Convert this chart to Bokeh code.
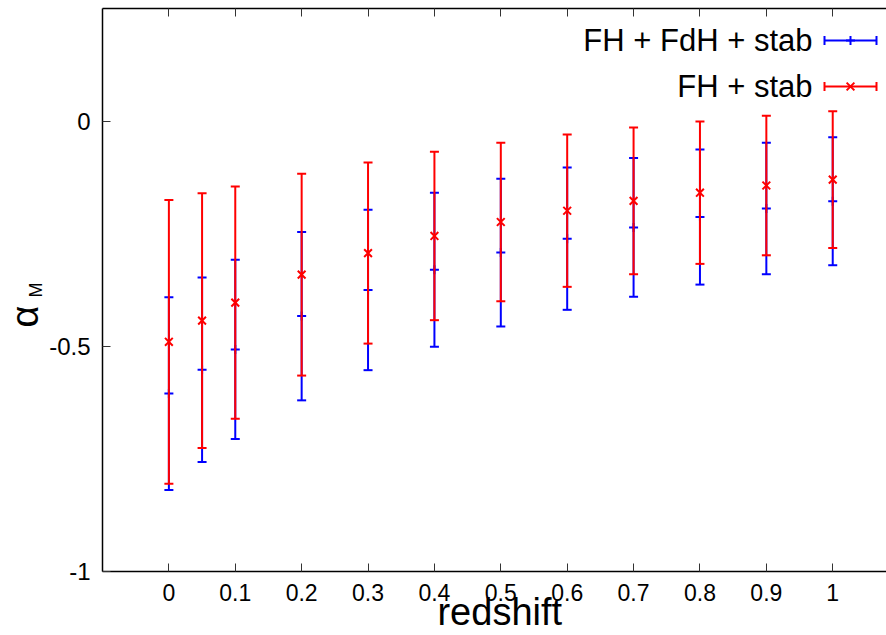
import numpy as np
from bokeh.plotting import figure
from bokeh.models import Range1d, FixedTicker, LinearAxis, Label, ColumnDataSource
from bokeh.embed import file_html
from bokeh.resources import INLINE

# ---- data ----
redshift = [0.0, 0.05, 0.1, 0.2, 0.3, 0.4, 0.5, 0.6, 0.7, 0.8, 0.9, 1.0]
blue_mean = [-0.605, -0.552, -0.507, -0.433, -0.375, -0.330, -0.292, -0.261, -0.236, -0.213, -0.194, -0.178]
blue_err = [0.214, 0.205, 0.199, 0.187, 0.178, 0.171, 0.164, 0.158, 0.154, 0.150, 0.146, 0.142]
red_mean = [-0.490, -0.443, -0.403, -0.341, -0.293, -0.255, -0.224, -0.199, -0.177, -0.159, -0.143, -0.130]
red_err = [0.315, 0.283, 0.258, 0.224, 0.201, 0.187, 0.176, 0.169, 0.163, 0.158, 0.155, 0.152]
blue_name = "FH + FdH + stab"
red_name = "FH + stab"
x_ticks = [0, 0.1, 0.2, 0.3, 0.4, 0.5, 0.6, 0.7, 0.8, 0.9, 1.0]
x_tick_labels = ["0", "0.1", "0.2", "0.3", "0.4", "0.5", "0.6", "0.7", "0.8", "0.9", "1"]
y_ticks = [-1, -0.5, 0]
y_tick_labels = ["-1", "-0.5", "0"]
x_label = "redshift"
y_label_main = "α"
y_label_sub = "M"

# ---- layout ----
W, H = 886, 635
FL, FR, FT, FB = 102, 886, 8, 571   # frame edges in pixels
X0, X1 = -0.1, 1.081
Y0, Y1 = -1.0, 0.25
FONT = "Liberation Sans"
NBSP = "\u00a0"

def px2x(px):
    return X0 + (px - FL) / (FR - FL) * (X1 - X0)

def py2y(py):
    return Y1 - (py - FT) / (FB - FT) * (Y1 - Y0)

p = figure(width=W, height=H, output_backend="svg", toolbar_location=None,
           x_range=Range1d(X0, X1), y_range=Range1d(Y0, Y1),
           min_border_left=FL, min_border_right=W - FR, min_border_top=FT,
           min_border_bottom=62)
p.outline_line_color = None
p.grid.visible = False
p.background_fill_color = "white"
p.border_fill_color = "white"

for ax in (p.xaxis[0], p.yaxis[0]):
    ax.axis_line_color = "black"
    ax.axis_line_width = 1.5
    ax.major_tick_in = 8
    ax.major_tick_out = 0
    ax.major_tick_line_color = "#333333"
    ax.major_tick_line_width = 1
    ax.minor_tick_line_color = None
    ax.major_label_text_font = FONT
    ax.major_label_text_color = "black"
    ax.axis_label_text_font = FONT
    ax.axis_label_text_font_style = "normal"
    ax.axis_label_text_color = "black"

xa_ = p.xaxis[0]
xa_.ticker = FixedTicker(ticks=x_ticks)
xa_.major_label_overrides = {t: l for t, l in zip(x_ticks, x_tick_labels)}
xa_.major_label_standoff = 12
xa_.major_label_text_font_size = "23px"
xa_.axis_label = NBSP + x_label
xa_.axis_label_text_font_size = "38px"
xa_.axis_label_standoff = -13

ya_ = p.yaxis[0]
ya_.ticker = FixedTicker(ticks=y_ticks)
ya_.major_label_overrides = {t: l for t, l in zip(y_ticks, y_tick_labels)}
ya_.major_label_standoff = 12
ya_.major_label_text_font_size = "24px"
ya_.axis_label = y_label_sub
ya_.axis_label_text_font_size = "18px"
ya_.axis_label_standoff = 0

# outer left axis carrying only the main symbol of the y label
ya2 = LinearAxis(ticker=FixedTicker(ticks=[]), axis_line_color=None,
                 major_tick_line_color=None, minor_tick_line_color=None,
                 major_label_text_font_size="0px", major_label_standoff=0,
                 axis_label=y_label_main + NBSP * 5, axis_label_text_font=FONT,
                 axis_label_text_font_size="38px", axis_label_text_font_style="normal",
                 axis_label_text_color="black", axis_label_standoff=-22)
p.add_layout(ya2, "left")

top = LinearAxis(ticker=FixedTicker(ticks=x_ticks), major_label_text_font_size="0px",
                 major_label_standoff=0, major_tick_in=8, major_tick_out=0,
                 axis_line_color="black", axis_line_width=1.5,
                 major_tick_line_color="#333333", minor_tick_line_color=None)
top.major_label_overrides = {t: "" for t in x_ticks}
p.add_layout(top, "above")

# ---- error bars ----
def errbars(mean, err, color, center_marker, center_size):
    m = np.array(mean); e = np.array(err)
    src = ColumnDataSource(dict(x=redshift, y=m, lo=m - e, hi=m + e))
    p.segment(x0="x", y0="lo", x1="x", y1="hi", source=src, line_color=color, line_width=2)
    p.scatter(x="x", y="lo", source=src, marker="dash", size=9, line_color=color, line_width=2)
    p.scatter(x="x", y="hi", source=src, marker="dash", size=9, line_color=color, line_width=2)
    p.scatter(x="x", y="y", source=src, marker=center_marker, size=center_size,
              line_color=color, line_width=2)

errbars(blue_mean, blue_err, "blue", "cross", 9)
errbars(red_mean, red_err, "red", "x", 11)

# ---- legend (manual, gnuplot style) ----
for name, color, mk, py in [(blue_name, "blue", "cross", 40), (red_name, "red", "x", 86)]:
    yy = py2y(py)
    xa, xb, xm = px2x(824), px2x(876), px2x(850)
    p.segment(x0=[xa], y0=[yy], x1=[xb], y1=[yy], line_color=color, line_width=2)
    p.scatter(x=[xa, xb], y=[yy, yy], marker="dash", angle=np.pi / 2, size=9,
              line_color=color, line_width=2)
    p.scatter(x=[xm], y=[yy], marker=mk, size=9 if mk == "cross" else 11,
              line_color=color, line_width=2)
    p.add_layout(Label(x=px2x(812), y=yy, text=name, text_align="right",
                       text_baseline="middle", text_font=FONT, text_font_size="31px",
                       text_color="black"))

open("out.html", "w").write(file_html(p, INLINE))
